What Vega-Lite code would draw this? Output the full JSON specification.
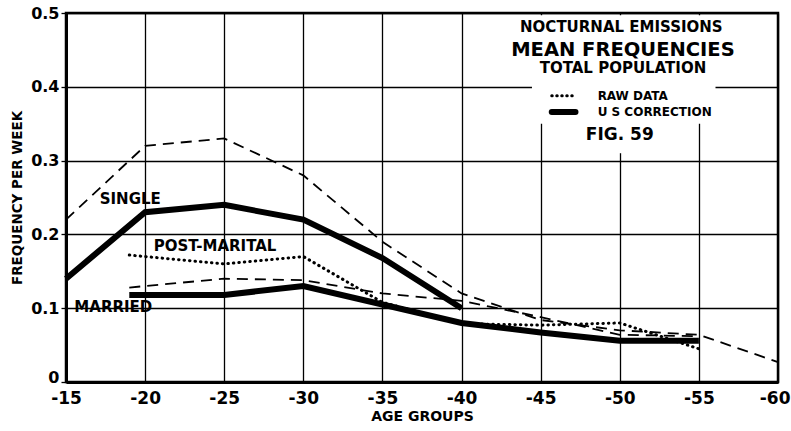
{
  "$schema": "https://vega.github.io/schema/vega-lite/v6.json",
  "width": 712,
  "height": 369,
  "autosize": {"type": "none"},
  "padding": {"left": 66, "top": 13, "right": 13, "bottom": 49},
  "background": "white",
  "config": {
    "view": {"stroke": "black", "strokeWidth": 2.5},
    "font": "DejaVu Sans",
    "axis": {"labelColor": "black", "titleColor": "black", "labelFont": "DejaVu Sans", "titleFont": "DejaVu Sans"},
    "text": {"color": "black", "fontWeight": "bold", "font": "DejaVu Sans", "baseline": "middle"}
  },
  "datasets": {
    "lines": [
      {"series": "single_us", "age": 15, "value": 0.14},
      {"series": "single_us", "age": 20, "value": 0.23},
      {"series": "single_us", "age": 25, "value": 0.24},
      {"series": "single_us", "age": 30, "value": 0.22},
      {"series": "single_us", "age": 35, "value": 0.168},
      {"series": "single_us", "age": 40, "value": 0.1},
      {"series": "married_us", "age": 19, "value": 0.118},
      {"series": "married_us", "age": 25, "value": 0.118},
      {"series": "married_us", "age": 30, "value": 0.13},
      {"series": "married_us", "age": 35, "value": 0.105},
      {"series": "married_us", "age": 40, "value": 0.08},
      {"series": "married_us", "age": 45, "value": 0.067},
      {"series": "married_us", "age": 50, "value": 0.056},
      {"series": "married_us", "age": 55, "value": 0.056},
      {"series": "single_raw", "age": 15, "value": 0.22},
      {"series": "single_raw", "age": 20, "value": 0.32},
      {"series": "single_raw", "age": 25, "value": 0.33},
      {"series": "single_raw", "age": 30, "value": 0.28},
      {"series": "single_raw", "age": 35, "value": 0.19},
      {"series": "single_raw", "age": 40, "value": 0.12},
      {"series": "single_raw", "age": 45, "value": 0.084},
      {"series": "single_raw", "age": 50, "value": 0.07},
      {"series": "single_raw", "age": 55, "value": 0.064},
      {"series": "single_raw", "age": 60, "value": 0.027},
      {"series": "married_raw", "age": 19, "value": 0.128},
      {"series": "married_raw", "age": 25, "value": 0.14},
      {"series": "married_raw", "age": 30, "value": 0.138},
      {"series": "married_raw", "age": 35, "value": 0.12},
      {"series": "married_raw", "age": 40, "value": 0.11},
      {"series": "married_raw", "age": 45, "value": 0.088},
      {"series": "married_raw", "age": 50, "value": 0.064},
      {"series": "married_raw", "age": 55, "value": 0.062},
      {"series": "post_raw", "age": 19, "value": 0.172},
      {"series": "post_raw", "age": 25, "value": 0.16},
      {"series": "post_raw", "age": 30, "value": 0.17},
      {"series": "post_raw", "age": 35, "value": 0.108},
      {"series": "post_raw", "age": 40, "value": 0.079},
      {"series": "post_raw", "age": 45, "value": 0.077},
      {"series": "post_raw", "age": 50, "value": 0.08},
      {"series": "post_raw", "age": 55, "value": 0.045}
    ],
    "boxes": [
      {"age": 40.5, "age2": 59.85, "value": 0.405, "value2": 0.497},
      {"age": 44.45, "age2": 56.05, "value": 0.35, "value2": 0.41},
      {"age": 49.3, "age2": 50.7, "value": 0.31, "value2": 0.36}
    ],
    "samples": [
      {"kind": "raw", "age": 45.7, "age2": 47.2, "value": 0.388},
      {"kind": "us", "age": 45.7, "age2": 47.2, "value": 0.366}
    ],
    "labels": [
      {"kind": "t1", "age": 50.1, "value": 0.4817, "text": "NOCTURNAL EMISSIONS"},
      {"kind": "t2", "age": 50.2, "value": 0.4505, "text": "MEAN FREQUENCIES"},
      {"kind": "t3", "age": 50.2, "value": 0.425, "text": "TOTAL POPULATION"},
      {"kind": "t4", "age": 50.0, "value": 0.335, "text": "FIG. 59"},
      {"kind": "series", "age": 19.06, "value": 0.248, "text": "SINGLE"},
      {"kind": "series", "age": 24.42, "value": 0.184, "text": "POST-MARITAL"},
      {"kind": "series", "age": 17.99, "value": 0.101, "text": "MARRIED"}
    ],
    "legendtext": [
      {"age": 48.6, "value": 0.388, "text": "RAW  DATA"},
      {"age": 48.6, "value": 0.366, "text": "U  S  CORRECTION"}
    ]
  },
  "layer": [
    {
      "data": {"name": "boxes"},
      "mark": {"type": "rect", "fill": "white", "stroke": null},
      "encoding": {
        "x": {
          "field": "age", "type": "quantitative", "title": "AGE  GROUPS",
          "scale": {"domain": [15, 60], "nice": false, "zero": false},
          "axis": {
            "values": [15, 20, 25, 30, 35, 40, 45, 50, 55, 60],
            "labelExpr": "'-' + datum.value",
            "labelAlign": {"expr": "datum.value == 60 ? 'right' : 'center'"},
            "labelOffset": {"expr": "datum.value == 60 ? 12 : 0"},
            "grid": true, "gridColor": "black", "gridWidth": 1.3, "gridOpacity": 1,
            "domain": true, "domainColor": "black", "domainWidth": 3,
            "ticks": false,
            "labelFontSize": 17, "labelFontWeight": "bold", "labelPadding": 8,
            "labelFlush": false,
            "titleFontSize": 14, "titleFontWeight": "bold", "titlePadding": 3
          }
        },
        "x2": {"field": "age2"},
        "y": {
          "field": "value", "type": "quantitative", "title": "FREQUENCY PER WEEK",
          "scale": {"domain": [0, 0.5], "nice": false},
          "axis": {
            "values": [0, 0.1, 0.2, 0.3, 0.4, 0.5],
            "labelExpr": "datum.value == 0 ? '0' : format(datum.value, '.1f')",
            "labelOffset": {"expr": "datum.value == 0 ? -5 : 0"},
            "grid": true, "gridColor": "black", "gridWidth": 1.3, "gridOpacity": 1,
            "domain": true, "domainColor": "black", "domainWidth": 3,
            "ticks": true, "tickSize": 5, "tickColor": "black", "tickWidth": 1.3,
            "labelFontSize": 16, "labelFontWeight": "bold", "labelPadding": 2,
            "labelFlush": false,
            "titleFontSize": 13.5, "titleFontWeight": "bold", "titlePadding": 6
          }
        },
        "y2": {"field": "value2"}
      }
    },
    {
      "data": {"name": "lines"},
      "transform": [{"filter": "datum.series == 'single_raw' || datum.series == 'married_raw'"}],
      "mark": {"type": "line", "color": "black", "strokeWidth": 1.8, "strokeDash": [11, 7]},
      "encoding": {
        "x": {"field": "age", "type": "quantitative", "title": "AGE  GROUPS"},
        "y": {"field": "value", "type": "quantitative", "title": "FREQUENCY PER WEEK"},
        "detail": {"field": "series"}
      }
    },
    {
      "data": {"name": "lines"},
      "transform": [{"filter": "datum.series == 'post_raw'"}],
      "mark": {"type": "line", "color": "black", "strokeWidth": 3, "strokeDash": [0.5, 5], "strokeCap": "round"},
      "encoding": {
        "x": {"field": "age", "type": "quantitative", "title": "AGE  GROUPS"},
        "y": {"field": "value", "type": "quantitative", "title": "FREQUENCY PER WEEK"},
        "detail": {"field": "series"}
      }
    },
    {
      "data": {"name": "lines"},
      "transform": [{"filter": "datum.series == 'single_us' || datum.series == 'married_us'"}],
      "mark": {"type": "line", "color": "black", "strokeWidth": 6, "strokeJoin": "miter"},
      "encoding": {
        "x": {"field": "age", "type": "quantitative", "title": "AGE  GROUPS"},
        "y": {"field": "value", "type": "quantitative", "title": "FREQUENCY PER WEEK"},
        "detail": {"field": "series"}
      }
    },
    {
      "data": {"name": "samples"},
      "transform": [{"filter": "datum.kind == 'raw'"}],
      "mark": {"type": "rule", "color": "black", "strokeWidth": 3, "strokeDash": [0.5, 4.5], "strokeCap": "round"},
      "encoding": {
        "x": {"field": "age", "type": "quantitative", "title": "AGE  GROUPS"},
        "x2": {"field": "age2"},
        "y": {"field": "value", "type": "quantitative", "title": "FREQUENCY PER WEEK"}
      }
    },
    {
      "data": {"name": "samples"},
      "transform": [{"filter": "datum.kind == 'us'"}],
      "mark": {"type": "rule", "color": "black", "strokeWidth": 6, "strokeCap": "round"},
      "encoding": {
        "x": {"field": "age", "type": "quantitative", "title": "AGE  GROUPS"},
        "x2": {"field": "age2"},
        "y": {"field": "value", "type": "quantitative", "title": "FREQUENCY PER WEEK"}
      }
    },
    {
      "data": {"name": "labels"},
      "transform": [{"filter": "datum.kind == 't1'"}],
      "mark": {"type": "text", "align": "center", "fontSize": 15},
      "encoding": {
        "x": {"field": "age", "type": "quantitative", "title": "AGE  GROUPS"},
        "y": {"field": "value", "type": "quantitative", "title": "FREQUENCY PER WEEK"},
        "text": {"field": "text"}
      }
    },
    {
      "data": {"name": "labels"},
      "transform": [{"filter": "datum.kind == 't2'"}],
      "mark": {"type": "text", "align": "center", "fontSize": 19.5},
      "encoding": {
        "x": {"field": "age", "type": "quantitative", "title": "AGE  GROUPS"},
        "y": {"field": "value", "type": "quantitative", "title": "FREQUENCY PER WEEK"},
        "text": {"field": "text"}
      }
    },
    {
      "data": {"name": "labels"},
      "transform": [{"filter": "datum.kind == 't3'"}],
      "mark": {"type": "text", "align": "center", "fontSize": 15},
      "encoding": {
        "x": {"field": "age", "type": "quantitative", "title": "AGE  GROUPS"},
        "y": {"field": "value", "type": "quantitative", "title": "FREQUENCY PER WEEK"},
        "text": {"field": "text"}
      }
    },
    {
      "data": {"name": "labels"},
      "transform": [{"filter": "datum.kind == 't4'"}],
      "mark": {"type": "text", "align": "center", "fontSize": 17},
      "encoding": {
        "x": {"field": "age", "type": "quantitative", "title": "AGE  GROUPS"},
        "y": {"field": "value", "type": "quantitative", "title": "FREQUENCY PER WEEK"},
        "text": {"field": "text"}
      }
    },
    {
      "data": {"name": "labels"},
      "transform": [{"filter": "datum.kind == 'series'"}],
      "mark": {"type": "text", "align": "center", "fontSize": 15},
      "encoding": {
        "x": {"field": "age", "type": "quantitative", "title": "AGE  GROUPS"},
        "y": {"field": "value", "type": "quantitative", "title": "FREQUENCY PER WEEK"},
        "text": {"field": "text"}
      }
    },
    {
      "data": {"name": "legendtext"},
      "mark": {"type": "text", "align": "left", "fontSize": 12},
      "encoding": {
        "x": {"field": "age", "type": "quantitative", "title": "AGE  GROUPS"},
        "y": {"field": "value", "type": "quantitative", "title": "FREQUENCY PER WEEK"},
        "text": {"field": "text"}
      }
    }
  ]
}
